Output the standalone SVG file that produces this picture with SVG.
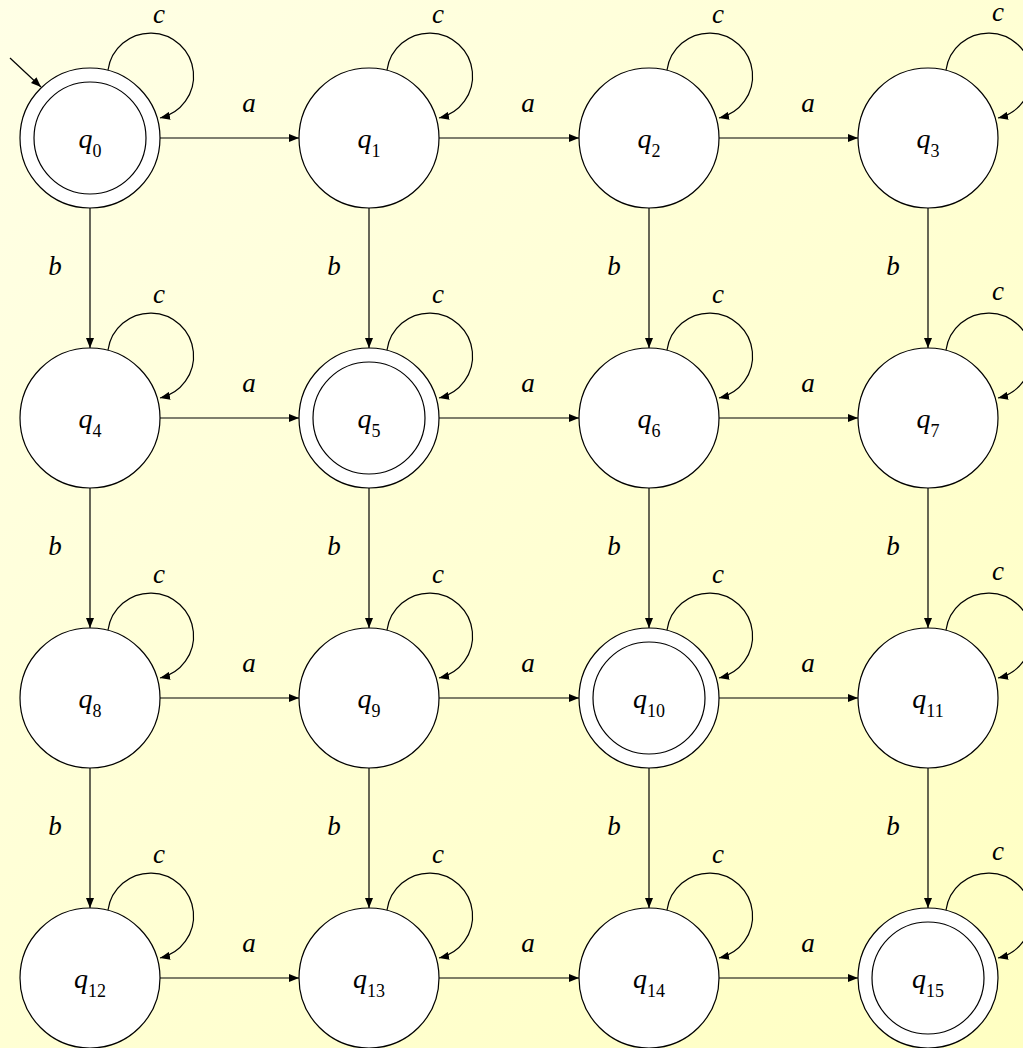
<svg xmlns="http://www.w3.org/2000/svg" width="1023" height="1048" viewBox="0 0 1023 1048">
<defs>
<linearGradient id="bg" x1="0" y1="0" x2="1" y2="1">
<stop offset="0" stop-color="#FFFFE6"/>
<stop offset="1" stop-color="#FFFFC2"/>
</linearGradient>
<marker id="ah" viewBox="0 0 10 8" refX="10" refY="4" markerWidth="10" markerHeight="8" markerUnits="userSpaceOnUse" orient="auto">
<path d="M0,0 L10,4 L0,8 Z" fill="#000"/>
</marker>
</defs>
<style>
.st{fill:#fff;stroke:#000;stroke-width:1.2}
.in{fill:none;stroke:#000;stroke-width:1.2}
.ed{fill:none;stroke:#000;stroke-width:1.2;marker-end:url(#ah)}
.lb{font-family:"Liberation Serif","Times New Roman",serif;font-style:italic;font-size:27px;text-anchor:middle}
.ql{font-family:"Liberation Serif","Times New Roman",serif;font-style:italic;font-size:28px;text-anchor:middle}
.sb{font-style:normal;font-size:18px}
</style>
<rect width="1023" height="1048" fill="url(#bg)"/>
<g id="connectors">
<path class="ed" d="M10,58 L41,87"/>
<path class="ed" d="M160,138 H299"/><path class="ed" d="M439,138 H579"/><path class="ed" d="M719,138 H858"/>
<path class="ed" d="M160,418 H299"/><path class="ed" d="M439,418 H579"/><path class="ed" d="M719,418 H858"/>
<path class="ed" d="M160,698 H299"/><path class="ed" d="M439,698 H579"/><path class="ed" d="M719,698 H858"/>
<path class="ed" d="M160,978 H299"/><path class="ed" d="M439,978 H579"/><path class="ed" d="M719,978 H858"/>
<path class="ed" d="M90,208 V348"/><path class="ed" d="M369,208 V348"/><path class="ed" d="M649,208 V348"/><path class="ed" d="M928,208 V348"/>
<path class="ed" d="M90,488 V628"/><path class="ed" d="M369,488 V628"/><path class="ed" d="M649,488 V628"/><path class="ed" d="M928,488 V628"/>
<path class="ed" d="M90,768 V908"/><path class="ed" d="M369,768 V908"/><path class="ed" d="M649,768 V908"/><path class="ed" d="M928,768 V908"/>
<path class="ed" d="M108,70 A43,43 0 1 1 160,118"/><path class="ed" d="M387,70 A43,43 0 1 1 439,118"/><path class="ed" d="M667,70 A43,43 0 1 1 719,118"/><path class="ed" d="M946,70 A43,43 0 1 1 998,118"/>
<path class="ed" d="M108,350 A43,43 0 1 1 160,398"/><path class="ed" d="M387,350 A43,43 0 1 1 439,398"/><path class="ed" d="M667,350 A43,43 0 1 1 719,398"/><path class="ed" d="M946,350 A43,43 0 1 1 998,398"/>
<path class="ed" d="M108,630 A43,43 0 1 1 160,678"/><path class="ed" d="M387,630 A43,43 0 1 1 439,678"/><path class="ed" d="M667,630 A43,43 0 1 1 719,678"/><path class="ed" d="M946,630 A43,43 0 1 1 998,678"/>
<path class="ed" d="M108,910 A43,43 0 1 1 160,958"/><path class="ed" d="M387,910 A43,43 0 1 1 439,958"/><path class="ed" d="M667,910 A43,43 0 1 1 719,958"/><path class="ed" d="M946,910 A43,43 0 1 1 998,958"/>
<g class="lb">
<text x="249" y="112">a</text><text x="528" y="112">a</text><text x="808" y="112">a</text>
<text x="249" y="392">a</text><text x="528" y="392">a</text><text x="808" y="392">a</text>
<text x="249" y="672">a</text><text x="528" y="672">a</text><text x="808" y="672">a</text>
<text x="249" y="952">a</text><text x="528" y="952">a</text><text x="808" y="952">a</text>
<text x="55" y="275">b</text><text x="334" y="275">b</text><text x="614" y="275">b</text><text x="893" y="275">b</text>
<text x="55" y="555">b</text><text x="334" y="555">b</text><text x="614" y="555">b</text><text x="893" y="555">b</text>
<text x="55" y="835">b</text><text x="334" y="835">b</text><text x="614" y="835">b</text><text x="893" y="835">b</text>
<text x="159" y="23">c</text><text x="438" y="23">c</text><text x="718" y="23">c</text><text x="998" y="21">c</text>
<text x="159" y="303">c</text><text x="438" y="303">c</text><text x="718" y="303">c</text><text x="998" y="300">c</text>
<text x="159" y="583">c</text><text x="438" y="583">c</text><text x="718" y="583">c</text><text x="998" y="580">c</text>
<text x="159" y="863">c</text><text x="438" y="863">c</text><text x="718" y="863">c</text><text x="998" y="860">c</text>
</g>
</g>
<g id="q0"><circle class="st" cx="90" cy="138" r="70"/><circle class="in" cx="90" cy="138" r="56"/><text class="ql" x="90" y="148">q<tspan class="sb" dy="9">0</tspan></text></g>
<g id="q1"><circle class="st" cx="369" cy="138" r="70"/><text class="ql" x="369" y="148">q<tspan class="sb" dy="9">1</tspan></text></g>
<g id="q2"><circle class="st" cx="649" cy="138" r="70"/><text class="ql" x="649" y="148">q<tspan class="sb" dy="9">2</tspan></text></g>
<g id="q3"><circle class="st" cx="928" cy="138" r="70"/><text class="ql" x="928" y="148">q<tspan class="sb" dy="9">3</tspan></text></g>
<g id="q4"><circle class="st" cx="90" cy="418" r="70"/><text class="ql" x="90" y="428">q<tspan class="sb" dy="9">4</tspan></text></g>
<g id="q5"><circle class="st" cx="369" cy="418" r="70"/><circle class="in" cx="369" cy="418" r="56"/><text class="ql" x="369" y="428">q<tspan class="sb" dy="9">5</tspan></text></g>
<g id="q6"><circle class="st" cx="649" cy="418" r="70"/><text class="ql" x="649" y="428">q<tspan class="sb" dy="9">6</tspan></text></g>
<g id="q7"><circle class="st" cx="928" cy="418" r="70"/><text class="ql" x="928" y="428">q<tspan class="sb" dy="9">7</tspan></text></g>
<g id="q8"><circle class="st" cx="90" cy="698" r="70"/><text class="ql" x="90" y="708">q<tspan class="sb" dy="9">8</tspan></text></g>
<g id="q9"><circle class="st" cx="369" cy="698" r="70"/><text class="ql" x="369" y="708">q<tspan class="sb" dy="9">9</tspan></text></g>
<g id="q10"><circle class="st" cx="649" cy="698" r="70"/><circle class="in" cx="649" cy="698" r="56"/><text class="ql" x="649" y="708">q<tspan class="sb" dy="9">10</tspan></text></g>
<g id="q11"><circle class="st" cx="928" cy="698" r="70"/><text class="ql" x="928" y="708">q<tspan class="sb" dy="9">11</tspan></text></g>
<g id="q12"><circle class="st" cx="90" cy="978" r="70"/><text class="ql" x="90" y="988">q<tspan class="sb" dy="9">12</tspan></text></g>
<g id="q13"><circle class="st" cx="369" cy="978" r="70"/><text class="ql" x="369" y="988">q<tspan class="sb" dy="9">13</tspan></text></g>
<g id="q14"><circle class="st" cx="649" cy="978" r="70"/><text class="ql" x="649" y="988">q<tspan class="sb" dy="9">14</tspan></text></g>
<g id="q15"><circle class="st" cx="928" cy="978" r="70"/><circle class="in" cx="928" cy="978" r="56"/><text class="ql" x="928" y="988">q<tspan class="sb" dy="9">15</tspan></text></g>
</svg>
